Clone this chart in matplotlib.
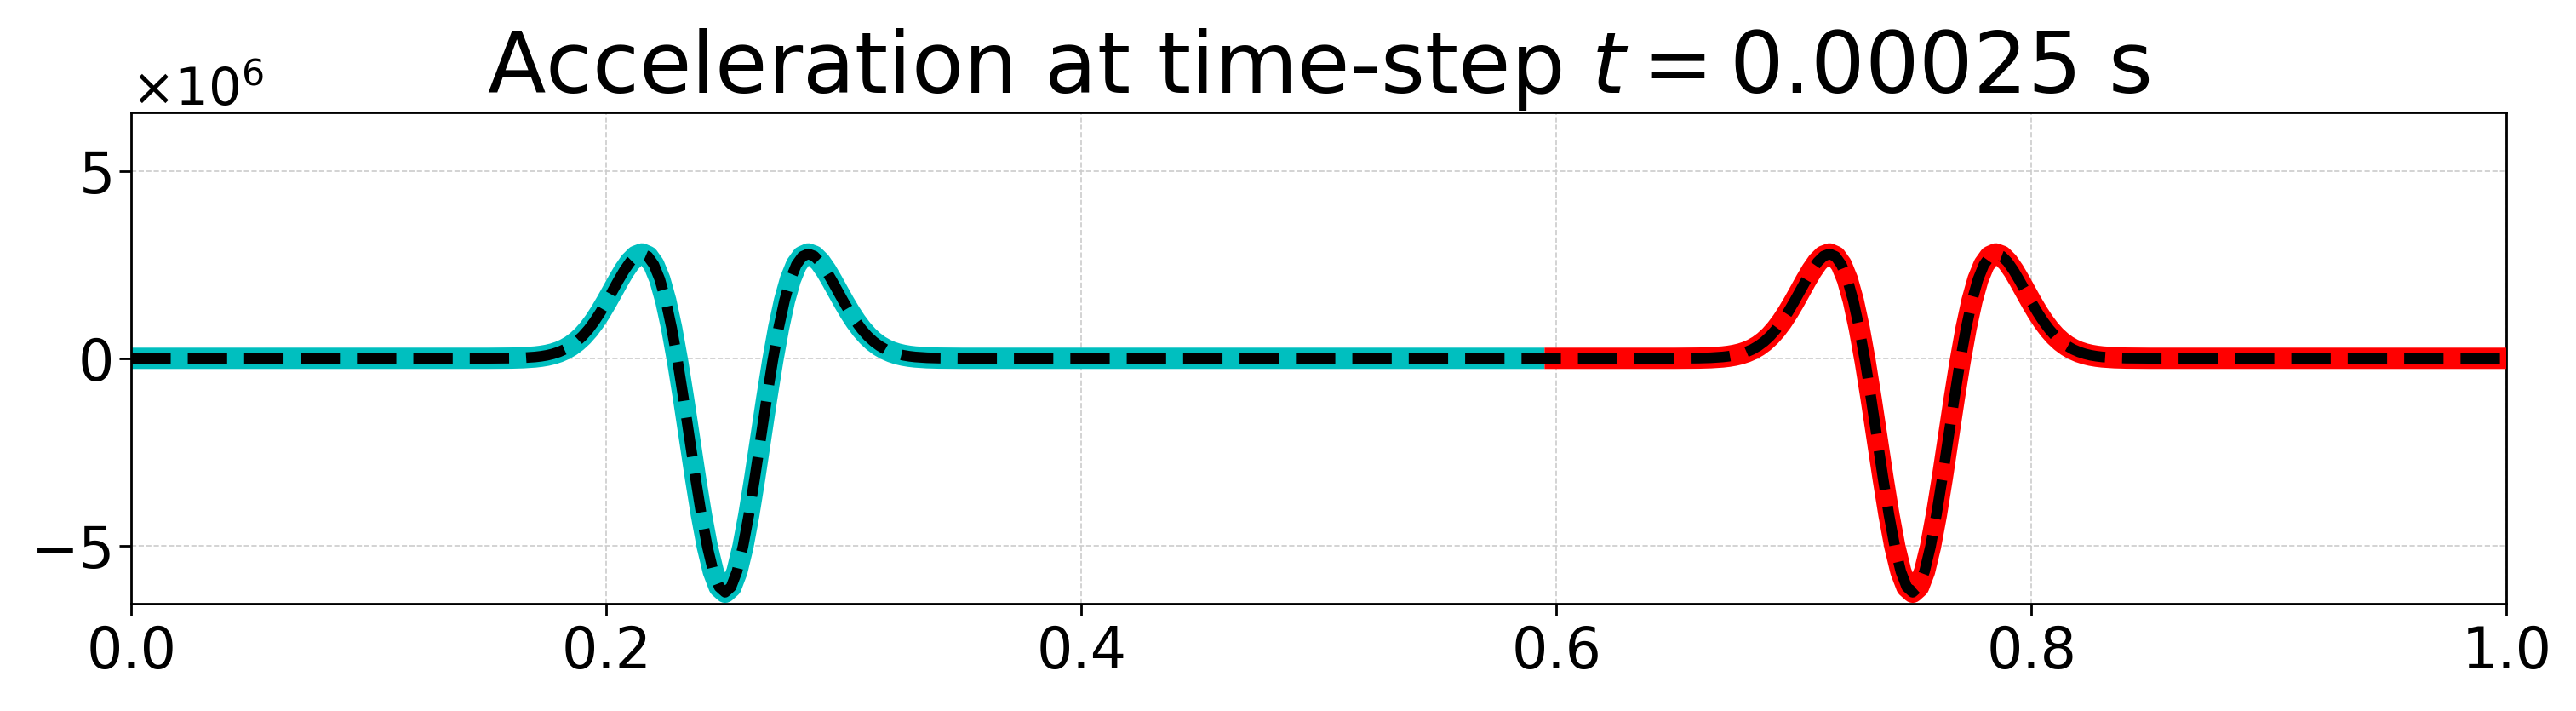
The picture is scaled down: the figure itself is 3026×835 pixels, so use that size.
import numpy as np
import matplotlib
matplotlib.use("Agg")
import matplotlib.pyplot as plt

# ---- data ----
# sample positions relative to each pulse centre
pulse_offsets = [-0.100, -0.090, -0.085,
                 -0.0800, -0.0775, -0.0750, -0.0725, -0.0700, -0.0675, -0.0650, -0.0625,
                 -0.0600, -0.0575, -0.0550, -0.0525, -0.0500, -0.0475, -0.0450, -0.0425,
                 -0.0400, -0.0375, -0.0350, -0.0325, -0.0300, -0.0275, -0.0250, -0.0225,
                 -0.0200, -0.0175, -0.0150, -0.0125, -0.0100, -0.0075, -0.0050, -0.0025,
                 0.0000,
                 0.0025, 0.0050, 0.0075, 0.0100, 0.0125, 0.0150, 0.0175, 0.0200,
                 0.0225, 0.0250, 0.0275, 0.0300, 0.0325, 0.0350, 0.0375, 0.0400,
                 0.0425, 0.0450, 0.0475, 0.0500, 0.0525, 0.0550, 0.0575, 0.0600,
                 0.0625, 0.0650, 0.0675, 0.0700, 0.0725, 0.0750, 0.0775, 0.0800,
                 0.085, 0.090, 0.100]
# acceleration of one pulse, in units of 1e6
pulse_accel = [0.0007, 0.0058, 0.015,
               0.0362, 0.0548, 0.0815, 0.1189, 0.1705, 0.2398, 0.3309, 0.4480,
               0.5947, 0.7736, 0.9857, 1.229, 1.498, 1.783, 2.070, 2.340,
               2.568, 2.726, 2.785, 2.716, 2.495, 2.105, 1.539, 0.8036,
               -0.0795, -1.074, -2.128, -3.182, -4.170, -5.023, -5.682, -6.098,
               -6.240,
               -6.098, -5.682, -5.023, -4.170, -3.182, -2.128, -1.074, -0.0795,
               0.8036, 1.539, 2.105, 2.495, 2.716, 2.785, 2.726, 2.568,
               2.340, 2.070, 1.783, 1.498, 1.229, 0.9857, 0.7736, 0.5947,
               0.4480, 0.3309, 0.2398, 0.1705, 0.1189, 0.0815, 0.0548, 0.0362,
               0.015, 0.0058, 0.0007]
pulse_centres = [0.25, 0.75]
domain = [0.0, 1.0]
split = 0.595          # boundary between the cyan and red sub-domains
scale = 1e6
title = r"Acceleration at time-step $t = 0.00025$ s"

# ---- assemble series ----
offs = np.array(pulse_offsets)
acc = np.array(pulse_accel) * scale
x_all = np.concatenate([[domain[0]], pulse_centres[0] + offs, [split],
                        pulse_centres[1] + offs, [domain[1]]])
y_all = np.concatenate([[0.0], acc, [0.0], acc, [0.0]])

left_mask = x_all <= split
right_mask = x_all >= split

# ---- figure ----
fig = plt.figure(figsize=(15.13, 4.175), dpi=200)
ax = fig.add_axes([0.05099, 0.15054, 0.92201, 0.69102])

ax.plot(x_all[left_mask], y_all[left_mask], color="c", lw=9, solid_capstyle="butt", zorder=2)
ax.plot(x_all[right_mask], y_all[right_mask], color="r", lw=9, solid_capstyle="butt", zorder=3)
ax.plot(x_all, y_all, color="k", lw=4.5, ls="--", zorder=4)

ax.set_xlim(domain)
ymax = 1.05 * np.max(np.abs(y_all))
ax.set_ylim(-ymax, ymax)
ax.set_xticks([0.0, 0.2, 0.4, 0.6, 0.8, 1.0])
ax.set_yticks([-5e6, 0, 5e6])
ax.ticklabel_format(axis="y", style="sci", scilimits=(0, 0), useMathText=True)

ax.grid(True, linestyle="--", linewidth=0.6, color="0.8")
ax.set_axisbelow(True)
ax.tick_params(labelsize=24, length=5, width=1)
ax.yaxis.get_offset_text().set_fontsize(22)
for s in ax.spines.values():
    s.set_linewidth(1.0)

ax.set_title(title, fontsize=36, pad=8)

fig.savefig("out.png", dpi=200)
